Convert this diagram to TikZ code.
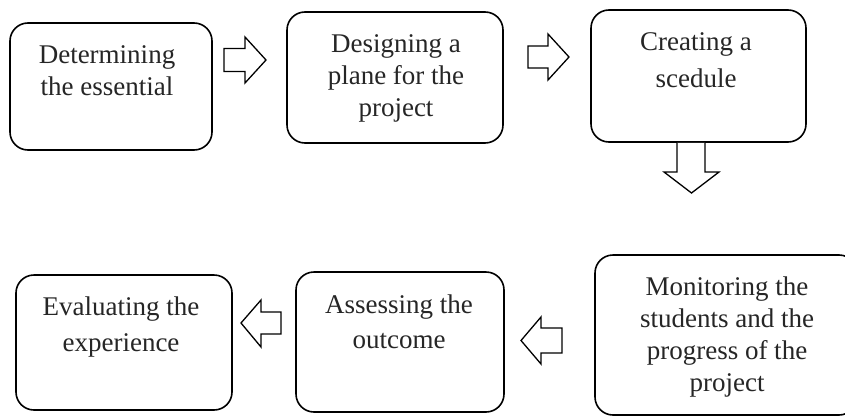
\documentclass[tikz,border=0pt]{standalone}
\usepackage{fontspec}
\setmainfont{Liberation Serif}
\usetikzlibrary{calc}
\tikzset{
  box/.style={draw=black, line width=1.6pt, rounded corners=18pt, fill=white, inner sep=0pt},
  txt/.style={align=center, inner sep=0pt, anchor=north, font=\fontsize{27}{32}\selectfont, text=black!85},
  blockarrow/.style={draw=black, line width=1.3pt, fill=white, line join=miter}
}
\begin{document}
\begin{tikzpicture}[x=1pt, y=-1pt]
\useasboundingbox (0,0) rectangle (845,415);
\clip (0,0) rectangle (845,415);
\fill[white] (0,0) rectangle (845,415);

% boxes
\node[box, minimum width=202pt, minimum height=127pt] (b1) at (111,86.5) {};
\node[box, minimum width=216pt, minimum height=131pt] (b2) at (395,77.5) {};
\node[box, minimum width=215pt, minimum height=132pt] (b3) at (698.5,76) {};
\node[box, minimum width=262pt, minimum height=160pt] (b6) at (726,335) {};
\node[box, minimum width=208pt, minimum height=140pt] (b5) at (400,342) {};
\node[box, minimum width=216pt, minimum height=135pt] (b4) at (124,342.5) {};

% texts
\node[txt] (t1) at (107,45) {Determining\\the essential};
\node[txt] (t2) at (396,34) {Designing a\\plane for the\\project};
\node[txt] (t3) at (696,32) {Creating a\\[5pt]scedule};
\node[txt] (t4) at (121,297) {Evaluating the\\[4pt]experience};
\node[txt] (t5) at (399,295) {Assessing the\\[3pt]outcome};
\node[txt] (t6) at (727,277) {Monitoring the\\students and the\\progress of the\\project};

% block arrows
\draw[blockarrow] (224,48.5) -- (245,48.5) -- (245,37) -- (266,60) -- (245,83) -- (245,71.5) -- (224,71.5) -- cycle;
\draw[blockarrow] (528,46) -- (548,46) -- (548,34) -- (569,57) -- (548,80) -- (548,68) -- (528,68) -- cycle;
\draw[blockarrow] (b3.south -| 677,0) -- (677,172) -- (664,172) -- (691.5,193) -- (719,172) -- (705,172) -- (b3.south -| 705,0);
\draw[blockarrow] (281,312) -- (261,312) -- (261,300) -- (241,323) -- (261,347) -- (261,334) -- (281,334) -- cycle;
\draw[blockarrow] (562,328) -- (541,328) -- (541,317) -- (521,340.5) -- (541,364) -- (541,353) -- (562,353) -- cycle;
\end{tikzpicture}
\end{document}
